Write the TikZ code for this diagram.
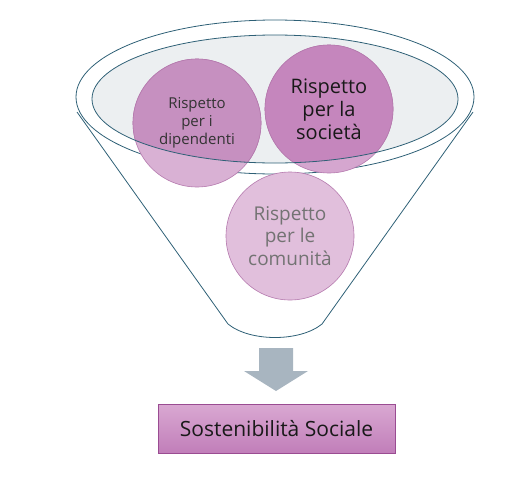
\documentclass[tikz,border=0pt]{standalone}
\usepackage{fontspec}
\setmainfont{Open Sans}
\usetikzlibrary{positioning}
\definecolor{funnelline}{HTML}{2E6076}
\definecolor{rimfill}{HTML}{ECEFF1}
\definecolor{ballline}{HTML}{B57AAE}
\definecolor{balllight}{HTML}{D9B1D4}
\definecolor{ballmid}{HTML}{D5A6CF}
\definecolor{ballpale}{HTML}{E1BFDC}
\definecolor{balldark}{HTML}{C690C0}
\definecolor{balldeep}{HTML}{C586BD}
\definecolor{arrowgray}{HTML}{A8B5C0}
\definecolor{boxtop}{HTML}{D9A8D2}
\definecolor{boxbottom}{HTML}{C17EB9}
\definecolor{boxline}{HTML}{9A4C92}
\begin{document}
\begin{tikzpicture}[x=1pt,y=-1pt,inner sep=0pt,outer sep=0pt,
funnel/.style={draw=funnelline,line width=0.8pt},
ball/.style={draw=ballline,circle,minimum size=128pt,line width=0.6pt},
balltext/.style={align=center},
goalbox/.style={draw=boxline,rectangle,minimum width=237pt,minimum height=49pt,line width=0.8pt,
  top color=boxtop,bottom color=boxbottom}]
\useasboundingbox (0,0) rectangle (510,490);
% funnel body
\draw[funnel] (275,97) ellipse [x radius=199,y radius=77];
\draw[funnel] (77,112) -- (228,324) .. controls (250,342) and (300,342) .. (322,324) -- (473,112);
\fill[rimfill] (275,99) ellipse [x radius=183,y radius=64];
% the three balls
\draw (197,123) node[ball,fill=balllight] (dip) {};
\draw (329,109) node[ball,fill=ballmid] (soc) {};
\draw (290,236) node[ball,fill=ballpale] (com) {};
% darker part inside the rim
\begin{scope}
\clip (275,99) ellipse [x radius=183,y radius=64];
\fill[balldark] (dip.center) circle (64);
\fill[balldeep] (soc.center) circle (64);
\draw[ballline,line width=0.6pt] (dip.center) circle (64) (soc.center) circle (64);
\end{scope}
\draw[funnel] (275,99) ellipse [x radius=183,y radius=64];
\node[balltext,text=black!80,font=\fontsize{15}{18}\selectfont] (diptext) at (dip) {Rispetto\\per i\\dipendenti};
\node[balltext,text=black!90,font=\fontsize{20}{23}\selectfont] (soctext) at (soc) {Rispetto\\per la\\società};
\node[balltext,text=black!55,font=\fontsize{19}{22.5}\selectfont] (comtext) at (com) {Rispetto\\per le\\comunità};
% result
\draw (276.5,428.5) node[goalbox,text=black!90,font=\fontsize{21}{24}\selectfont] (goal) {Sostenibilità Sociale};
\coordinate (flow) at (276,348);
\fill[arrowgray] (flow) ++(-17,0) -- ++(34,0) -- ++(0,23) -- ++(15,0) -- ++(-32,20) -- ++(-32,-20) -- ++(15,0) -- cycle;
\end{tikzpicture}
\end{document}
